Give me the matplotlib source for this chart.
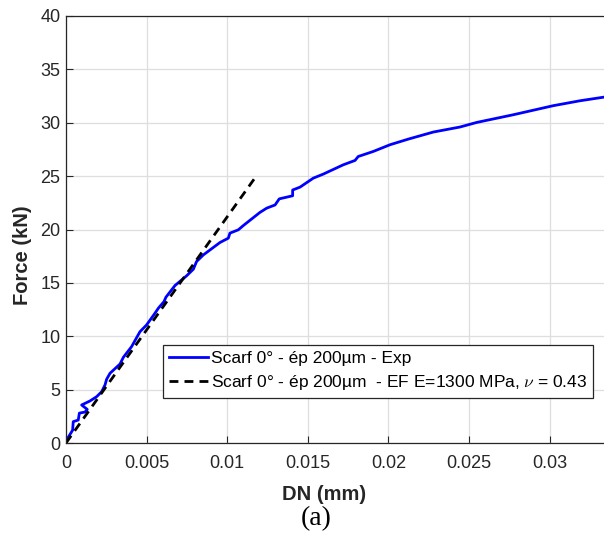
import matplotlib
matplotlib.use("Agg")
import matplotlib.pyplot as plt

dn_exp = [0, 0.00041, 0.00045, 0.00076, 0.00083, 0.00118, 0.00132, 0.00097, 0.00149,
          0.0019, 0.00221, 0.00242, 0.00252, 0.00273, 0.00335, 0.00356, 0.00407,
          0.00459, 0.0050, 0.00552, 0.00573, 0.00608, 0.0062, 0.00676, 0.00748,
          0.0079, 0.0081, 0.00852, 0.00955, 0.01007, 0.01017, 0.01069, 0.011,
          0.01203, 0.01245, 0.01297, 0.01323, 0.01406, 0.01406, 0.01452, 0.01534,
          0.01596, 0.0172, 0.01793, 0.01813, 0.01906, 0.0201, 0.02124, 0.02279,
          0.02444, 0.02548, 0.02775, 0.03023, 0.03189, 0.03337]
force_exp = [0.2, 1.2, 2.0, 2.15, 2.8, 2.9, 3.15, 3.56, 3.94,
             4.34, 4.8, 5.44, 5.97, 6.53, 7.4, 8.03, 9.03,
             10.43, 11.06, 12.16, 12.63, 13.25, 13.66, 14.75, 15.66,
             16.28, 17.0, 17.62, 18.78, 19.19, 19.66, 19.97, 20.37,
             21.6, 22.0, 22.3, 22.87, 23.16, 23.7, 23.97, 24.81,
             25.19, 26.06, 26.47, 26.84, 27.31, 27.94, 28.47, 29.13,
             29.6, 30.03, 30.75, 31.6, 32.06, 32.4]

# FE curve
dn_fe = [0, 0.0118]
force_fe = [0, 25]

xticks = [0, 0.005, 0.01, 0.015, 0.02, 0.025, 0.03]
xtick_labels = ["0", "0.005", "0.01", "0.015", "0.02", "0.025", "0.03"]
yticks = [0, 5, 10, 15, 20, 25, 30, 35, 40]

plt.rcParams["font.family"] = "Liberation Sans"
plt.rcParams["mathtext.fontset"] = "cm"

fig = plt.figure(figsize=(6.04, 5.36), dpi=100)
ax = fig.add_axes([66 / 604, 93 / 536, 550 / 604, 427 / 536])

ax.plot(dn_exp, force_exp, color="#0000ff", lw=2.0,
        label="Scarf 0° - ép 200µm - Exp")
ax.plot(dn_fe, force_fe, color="black", lw=2.0, linestyle=(0, (3.2, 2.2)),
        label="Scarf 0° - ép 200µm  - EF E=1300 MPa, $\\nu$ = 0.43")

ax.set_xlim(0, 550 / 16120)
ax.set_ylim(0, 40)
ax.set_xticks(xticks)
ax.set_xticklabels(xtick_labels)
ax.set_yticks(yticks)
ax.tick_params(direction="in", length=5, labelsize=13, colors="#262626")
ax.tick_params(axis="x", pad=9)
ax.tick_params(axis="y", pad=4)
ax.grid(True, color="#dedede", lw=0.9)
ax.set_axisbelow(True)
for s in ax.spines.values():
    s.set_color("#262626")
    s.set_linewidth(0.9)

ax.set_xlabel("DN (mm)", fontsize=14.5, fontweight="bold", color="#262626")
ax.set_ylabel("Force (kN)", fontsize=14.5, fontweight="bold", color="#262626")
ax.xaxis.set_label_coords((324 - 66) / 550, -0.098)
ax.yaxis.set_label_coords(-0.062, 0.44)

leg = ax.legend(loc="lower right", bbox_to_anchor=((593 - 66) / 550, 44.7 / 427),
                borderaxespad=0, fancybox=False, edgecolor="#262626",
                fontsize=12.5, handlelength=2.2, handletextpad=0.17,
                borderpad=0.35, labelspacing=0.4, framealpha=1)
leg.get_frame().set_linewidth(0.9)

fig.text(316 / 604, 17 / 536, "(a)", family="Liberation Serif", fontsize=20,
         ha="center", va="center")

fig.savefig("out.png", dpi=100)
